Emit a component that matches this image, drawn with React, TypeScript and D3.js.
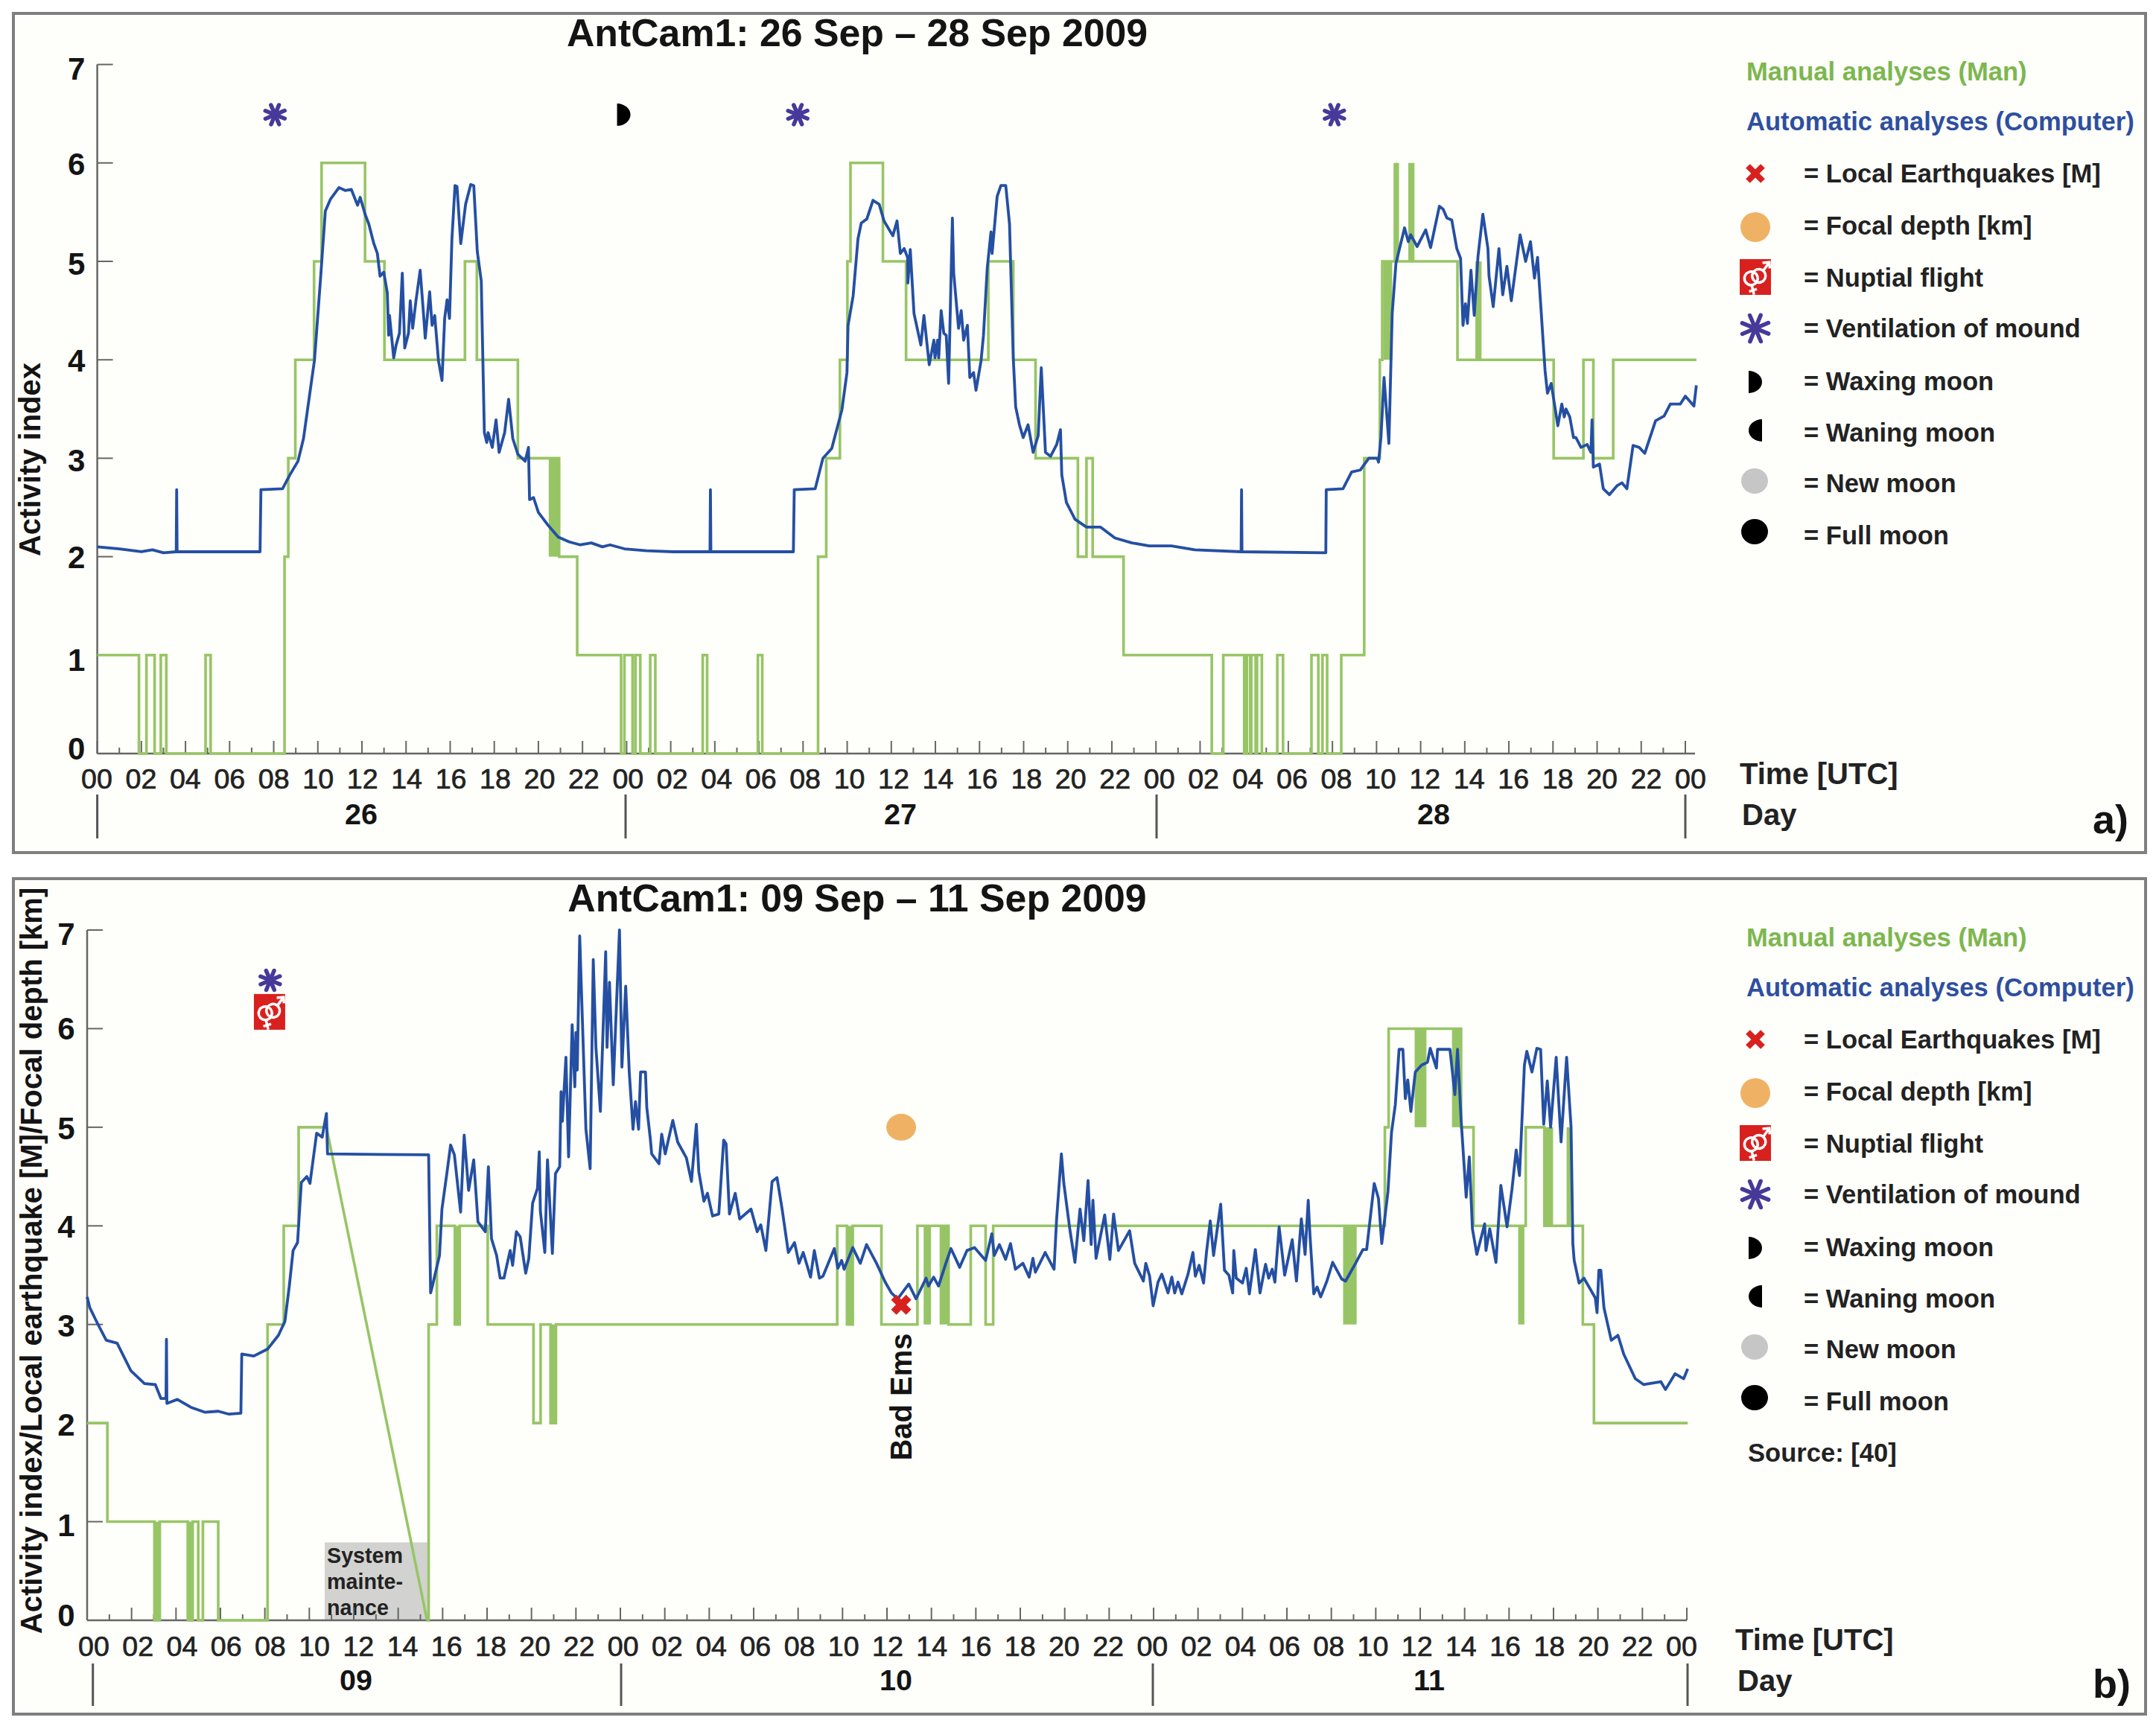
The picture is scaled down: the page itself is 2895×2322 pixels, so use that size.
import React from "react";
import * as d3 from "d3";

type P = [number, number];
type Band = [number, number, number, number];

const hourLabels = ["00","02","04","06","08","10","12","14","16","18","20","22"];
const yTicks = [0,1,2,3,4,5,6,7];

const titleA = "AntCam1: 26 Sep \u2013 28 Sep 2009";
const titleB = "AntCam1: 09 Sep \u2013 11 Sep 2009";
const daysA = ["26","27","28"];
const daysB = ["09","10","11"];

const legendRows = ["= Local Earthquakes [M]","= Focal depth [km]","= Nuptial flight","= Ventilation of mound","= Waxing moon","= Waning moon","= New moon","= Full moon"];

const manualA: P[] = [[0,1],[1.89,0],[2.23,1],[2.6,0],[2.88,1],[3.13,0],[4.91,1],[5.14,0],[8.49,2],[8.66,3],[8.98,4],[9.83,5],[10.17,6],[12.14,5],[13.02,4],[16.67,5],[17.21,4],[19.07,3],[20.94,2],[21.76,1],[23.75,0],[23.9,1],[24.27,0],[24.4,1],[24.62,0],[25.07,1],[25.3,0],[27.45,1],[27.65,0],[29.95,1],[30.15,0],[32.68,2],[33.05,3],[33.67,4],[34.01,5],[34.15,6],[35.62,5],[36.67,4],[40.4,5],[41.53,4],[42.54,3],[44.46,2],[44.85,3],[45.13,2],[46.53,1],[50.53,0],[51.05,1],[52.0,0],[52.12,1],[52.27,0],[52.32,1],[52.52,0],[52.58,1],[52.8,0],[53.5,1],[53.76,0],[55.05,1],[55.36,0],[55.55,1],[55.76,0],[56.4,1],[57.44,3],[58.15,4],[58.26,5],[61.67,4],[66.03,3],[67.38,4],[67.83,3],[68.73,4],[72.5,4]];
const manualBandsA: Band[] = [[20.47,20.94,2,3],[58.32,58.71,4,5],[58.77,59.02,5,6],[59.44,59.72,5,6],[62.48,62.76,4,5]];

const blueA: P[] = [[0,2.1],[1,2.08],[2,2.05],[2.5,2.07],[3,2.04],[3.58,2.05],[3.6,2.68],[3.62,2.05],[5,2.05],[7.38,2.05],[7.42,2.68],[8.4,2.69],[8.73,2.83],[9.1,2.97],[9.35,3.2],[9.6,3.6],[9.85,4.0],[10.115,4.8],[10.34,5.51],[10.57,5.63],[10.96,5.75],[11.24,5.72],[11.52,5.73],[11.8,5.57],[11.92,5.65],[12.14,5.48],[12.31,5.38],[12.54,5.18],[12.7,5.08],[12.82,4.85],[12.99,4.89],[13.15,4.68],[13.21,4.25],[13.25,4.45],[13.44,4.02],[13.55,4.15],[13.7,4.27],[13.83,4.88],[13.94,4.12],[14.11,4.27],[14.19,4.6],[14.3,4.32],[14.45,4.6],[14.64,4.91],[14.79,4.47],[14.87,4.22],[15.07,4.69],[15.18,4.35],[15.3,4.45],[15.47,3.99],[15.63,3.79],[15.75,4.42],[15.86,4.61],[15.97,4.42],[16.08,5.23],[16.22,5.77],[16.31,5.76],[16.48,5.18],[16.7,5.58],[16.93,5.78],[17.07,5.77],[17.23,5.1],[17.41,4.8],[17.55,3.26],[17.66,3.16],[17.72,3.26],[17.91,3.11],[18.08,3.39],[18.22,3.06],[18.47,3.26],[18.65,3.6],[18.84,3.2],[19.07,3.04],[19.4,2.97],[19.55,3.11],[19.6,2.58],[19.78,2.6],[20.0,2.45],[20.4,2.33],[20.9,2.2],[21.4,2.15],[21.9,2.12],[22.4,2.14],[22.9,2.1],[23.25,2.12],[23.9,2.08],[24.9,2.06],[26.1,2.05],[27.78,2.05],[27.8,2.68],[27.82,2.05],[31.56,2.05],[31.6,2.68],[32.55,2.69],[32.9,3.0],[33.3,3.1],[33.76,3.49],[33.99,3.87],[34.04,4.35],[34.27,4.65],[34.49,5.23],[34.64,5.39],[34.89,5.43],[35.17,5.62],[35.45,5.58],[35.67,5.41],[36.07,5.26],[36.26,5.41],[36.41,5.08],[36.58,5.13],[36.74,5.04],[36.75,4.78],[36.86,5.12],[37.03,4.47],[37.34,4.15],[37.48,4.45],[37.72,3.95],[37.93,4.2],[37.98,4.02],[38.1,4.2],[38.15,4.02],[38.26,4.5],[38.38,4.27],[38.49,4.25],[38.6,3.76],[38.77,5.44],[38.83,4.88],[39.05,4.32],[39.17,4.5],[39.28,4.2],[39.45,4.35],[39.56,3.82],[39.73,3.87],[39.84,3.69],[40.07,3.99],[40.18,4.25],[40.35,4.93],[40.52,5.3],[40.57,5.08],[40.8,5.66],[40.97,5.77],[41.19,5.77],[41.36,5.38],[41.53,4.02],[41.64,3.52],[41.81,3.34],[41.98,3.21],[42.2,3.34],[42.43,3.06],[42.66,3.23],[42.8,3.92],[42.99,3.06],[43.22,3.02],[43.5,3.14],[43.67,3.29],[43.73,2.83],[43.94,2.55],[44.33,2.38],[44.85,2.3],[45.49,2.3],[46.14,2.19],[46.91,2.14],[47.69,2.11],[48.7,2.11],[49.76,2.07],[51.86,2.05],[51.88,2.68],[51.9,2.05],[55.7,2.04],[55.72,2.68],[56.48,2.69],[56.87,2.86],[57.26,2.88],[57.65,3.0],[58.03,3.0],[58.09,2.96],[58.2,3.21],[58.34,3.82],[58.56,3.15],[58.71,4.47],[58.88,4.98],[59.27,5.34],[59.44,5.2],[59.55,5.27],[59.84,5.15],[60.23,5.32],[60.45,5.14],[60.85,5.56],[61.02,5.53],[61.19,5.44],[61.41,5.42],[61.64,5.13],[61.81,5.03],[61.92,4.35],[62.03,4.57],[62.12,4.37],[62.28,4.91],[62.43,4.45],[62.6,5.05],[62.82,5.48],[63.05,5.13],[63.1,4.85],[63.29,4.54],[63.55,5.13],[63.72,4.66],[63.91,4.95],[64.11,4.6],[64.51,5.27],[64.76,5.0],[64.98,5.2],[65.16,4.83],[65.3,5.04],[65.47,4.47],[65.64,3.89],[65.75,3.66],[65.92,3.76],[66.22,3.33],[66.4,3.55],[66.51,3.42],[66.59,3.5],[66.76,3.42],[66.93,3.21],[67.04,3.21],[67.27,3.11],[67.55,3.14],[67.72,3.06],[67.77,3.39],[67.83,2.91],[68.11,2.94],[68.28,2.69],[68.56,2.63],[68.9,2.72],[69.13,2.75],[69.35,2.69],[69.63,3.13],[69.91,3.11],[70.16,3.05],[70.65,3.38],[71.04,3.43],[71.32,3.55],[71.77,3.55],[72,3.63],[72.39,3.53],[72.5,3.74]];

const manualB1: P[] = [[0,2],[0.91,1],[3.03,0],[3.27,1],[4.53,0],[4.75,1],[5.0,0],[5.21,1],[5.9,0],[8.12,3],[8.85,4],[9.52,5],[10.77,5]];
const manualDiagonalB: P[] = [[10.77,5],[15.3,0]];
const manualB2: P[] = [[15.3,0],[15.37,3],[15.74,4],[16.55,3],[16.77,4],[18.03,3],[20.09,2],[20.41,3],[20.86,2],[21.1,3],[33.76,4],[34.2,3],[34.46,4],[35.75,3],[37.37,4],[38.77,3],[39.77,4],[40.44,3],[40.78,4],[58.41,5],[58.58,6],[61.84,5],[62.4,4],[64.75,5],[65.59,4],[67.32,3],[67.82,2],[72.04,2]];
const manualBandsB: Band[] = [[3.03,3.27,0,1],[4.53,4.75,0,1],[16.55,16.77,3,4],[20.86,21.1,2,3],[34.2,34.46,3,4],[37.65,37.98,3,4],[38.37,38.77,3,4],[56.53,57.14,3,4],[59.75,60.28,5,6],[61.43,61.84,5,6],[64.41,64.69,3,4],[65.59,65.98,4,5],[66.59,66.79,4,5]];

const blueB: P[] = [[0,3.28],[0.12,3.17],[0.49,3.0],[0.86,2.84],[1.35,2.81],[1.97,2.53],[2.58,2.4],[3.07,2.39],[3.32,2.25],[3.55,2.25],[3.57,2.85],[3.59,2.2],[4.06,2.24],[4.67,2.16],[5.29,2.11],[5.9,2.12],[6.39,2.09],[6.92,2.1],[6.96,2.7],[7.5,2.68],[8.12,2.75],[8.61,2.89],[8.9,3.03],[9.1,3.39],[9.27,3.75],[9.47,3.83],[9.64,4.44],[9.89,4.5],[10.03,4.43],[10.33,4.94],[10.58,4.9],[10.77,5.14],[10.82,4.73],[15.37,4.72],[15.46,3.32],[15.55,3.4],[15.86,3.7],[15.97,4.17],[16.19,4.53],[16.36,4.82],[16.53,4.72],[16.81,4.14],[16.97,4.92],[17.17,4.36],[17.4,4.67],[17.59,4.04],[17.92,3.94],[18.06,4.6],[18.2,3.87],[18.43,3.7],[18.59,3.47],[18.76,3.47],[19.04,3.75],[19.15,3.6],[19.32,3.94],[19.49,3.89],[19.74,3.52],[19.88,3.67],[20.05,4.23],[20.27,4.38],[20.35,4.75],[20.4,4.15],[20.6,3.73],[20.72,4.67],[20.94,3.72],[21.08,4.53],[21.27,4.6],[21.33,5.36],[21.39,5.06],[21.55,5.71],[21.67,4.7],[21.83,6.04],[21.95,5.41],[22,5.96],[22.06,5.58],[22.17,6.94],[22.25,6.37],[22.45,4.98],[22.64,4.58],[22.78,6.7],[22.9,5.81],[23.1,5.16],[23.34,6.78],[23.4,5.81],[23.51,6.47],[23.68,5.43],[23.96,7.0],[24.07,5.61],[24.24,6.43],[24.4,5.56],[24.57,4.98],[24.68,5.26],[24.82,4.98],[24.91,5.56],[25.13,5.56],[25.19,5.2],[25.35,4.88],[25.41,4.73],[25.74,4.63],[25.86,4.93],[26.02,4.73],[26.36,5.07],[26.58,4.85],[26.97,4.69],[27.2,4.45],[27.42,5.03],[27.53,4.55],[27.76,4.25],[27.92,4.33],[28.15,4.1],[28.43,4.12],[28.65,4.87],[28.76,4.83],[28.91,4.12],[29.17,4.33],[29.37,4.07],[29.88,4.17],[30.16,3.94],[30.32,4.01],[30.55,3.75],[30.83,4.45],[31.05,4.49],[31.28,4.17],[31.56,3.73],[31.84,3.83],[32.04,3.62],[32.23,3.73],[32.56,3.48],[32.73,3.75],[32.96,3.47],[33.12,3.49],[33.63,3.77],[33.79,3.57],[33.96,3.65],[34.07,3.56],[34.46,3.78],[34.8,3.62],[35.08,3.81],[35.53,3.62],[35.92,3.43],[36.2,3.32],[36.48,3.26],[36.98,3.41],[37.31,3.26],[37.76,3.47],[37.87,3.39],[38.1,3.48],[38.32,3.39],[38.65,3.62],[38.88,3.77],[39.27,3.58],[39.6,3.75],[39.94,3.78],[40.44,3.65],[40.72,3.92],[40.83,3.7],[41.06,3.81],[41.34,3.66],[41.56,3.82],[41.78,3.56],[42.12,3.62],[42.4,3.48],[42.57,3.67],[42.68,3.53],[43.12,3.73],[43.52,3.56],[43.63,4.05],[43.85,4.73],[43.96,4.43],[44.24,3.95],[44.46,3.63],[44.69,4.17],[44.86,3.85],[45.05,4.46],[45.19,3.81],[45.27,4.26],[45.41,3.67],[45.8,4.11],[46.03,3.66],[46.2,4.12],[46.42,3.75],[46.92,3.95],[47.15,3.62],[47.54,3.44],[47.65,3.62],[47.82,3.49],[47.98,3.19],[48.2,3.43],[48.37,3.51],[48.65,3.32],[48.82,3.48],[48.95,3.32],[49.1,3.43],[49.27,3.31],[49.55,3.51],[49.77,3.73],[49.88,3.49],[50.05,3.6],[50.25,3.42],[50.38,3.73],[50.55,4.05],[50.7,3.7],[51.02,4.22],[51.19,3.55],[51.39,3.5],[51.56,3.32],[51.61,3.75],[51.72,3.47],[52.0,3.42],[52.17,3.57],[52.31,3.31],[52.58,3.76],[52.79,3.32],[53.04,3.61],[53.18,3.47],[53.34,3.56],[53.46,3.43],[53.65,3.99],[53.9,3.5],[54.24,3.86],[54.43,3.44],[54.65,4.07],[54.82,3.71],[54.96,4.26],[55.04,3.9],[55.21,3.31],[55.36,3.38],[55.52,3.28],[55.8,3.44],[56.06,3.63],[56.47,3.46],[56.64,3.44],[57.09,3.62],[57.42,3.76],[57.59,3.76],[57.93,4.43],[58.12,4.28],[58.27,3.82],[58.55,4.35],[58.71,4.95],[58.88,5.23],[59.05,5.79],[59.22,5.79],[59.33,5.29],[59.44,5.48],[59.58,5.16],[59.78,5.56],[60.06,5.63],[60.33,5.66],[60.45,5.8],[60.73,5.6],[60.78,5.79],[61.34,5.79],[61.56,5.33],[61.68,5.79],[61.84,5.08],[62.07,4.29],[62.21,4.7],[62.35,3.97],[62.55,3.71],[62.9,4.02],[62.96,3.75],[63.13,3.97],[63.41,3.63],[63.63,4.41],[63.91,3.99],[64.13,4.37],[64.32,4.77],[64.47,4.51],[64.69,5.63],[64.8,5.77],[65.03,5.56],[65.25,5.8],[65.42,5.79],[65.56,5.03],[65.72,5.47],[65.87,5.0],[66.12,5.71],[66.34,4.85],[66.59,5.71],[66.79,5.0],[66.87,3.82],[66.93,3.65],[67.15,3.42],[67.37,3.47],[67.88,3.27],[67.96,3.12],[68.04,3.55],[68.13,3.55],[68.27,3.17],[68.6,2.84],[68.9,2.89],[69.16,2.7],[69.68,2.45],[70.06,2.39],[70.83,2.42],[71.04,2.34],[71.47,2.5],[71.86,2.45],[72.04,2.55]];

const ventilationA: P[] = [[8.06,6.49],[31.76,6.49],[56.09,6.49]];
const waxingA: P[] = [[23.87,6.49]];
const ventilationB: P[] = [[8.24,6.49]];
const nuptialB: P[] = [[8.21,6.17]];
const focalB: P[] = [[36.64,5.0]];
const quakeB: P[] = [[36.64,3.2]];
const maintenanceB: Band = [10.69,15.42,0,0.79];

const GREEN = "#97c566";
const GREEN_TEXT = "#7cb74f";
const BLUE = "#244fa3";
const BLUE_TEXT = "#2e4f9f";
const PURPLE = "#46399a";
const ORANGE = "#efb265";
const RED = "#d8211f";
const GREY = "#c6c6c6";
const AXIS = "#666";
const INK = "#141414";
const FONT = "'Liberation Sans', Arial, sans-serif";

const Aster = ({ x, y, r, sw }: { x: number; y: number; r: number; sw: number }) => (
  <g transform={`translate(${x},${y})`} stroke={PURPLE} strokeWidth={sw} strokeLinecap="round">
    {[0, 45, 90, 135].map((a) => (
      <line key={a} x1={-r} x2={r} y1={0} y2={0} transform={`rotate(${a + 22})`} />
    ))}
  </g>
);
const Moon = ({ x, y, dir }: { x: number; y: number; dir: 1 | -1 }) => (
  <path transform={`translate(${x},${y}) scale(${dir},1)`} d="M-9,-15 A18,15 0 0 1 -9,15 Z" fill="#000" />
);
const Quake = ({ x, y, s, sw }: { x: number; y: number; s: number; sw: number }) => (
  <g transform={`translate(${x},${y})`} stroke={RED} strokeWidth={sw}>
    <line x1={-s} y1={-s} x2={s} y2={s} />
    <line x1={-s} y1={s} x2={s} y2={-s} />
  </g>
);
const Nuptial = ({ x, y }: { x: number; y: number }) => (
  <g transform={`translate(${x},${y})`}>
    <rect x={-21} y={-24} width={42} height={48} fill={RED} />
    <g transform="rotate(-18)" fill="none" stroke="#fff" strokeWidth={3.5}>
      <circle cx={-6} cy={0} r={9} />
      <circle cx={5} cy={0} r={9} />
      <line x1={-8} y1={9} x2={-9} y2={22} />
      <line x1={-14} y1={16} x2={-3} y2={16} />
      <line x1={13} y1={-5} x2={24} y2={-13} />
      <path d="M15,-15 L24,-13 L22,-5" />
    </g>
  </g>
);

interface PanelProps {
  top: number; bottom: number; x0: number; x72: number; y0: number; y7: number;
  yLabY: number[]; tickBase: number; dayBase: number; sepTop: number; sepBottom: number; sepX: number[];
  title: string; titleBase: number; days: string[]; dayX: number[];
  children?: (x: d3.ScaleLinear<number, number>, y: d3.ScaleLinear<number, number>) => React.ReactNode;
  manual: P[][]; manualLinear?: P[]; bands: Band[]; blue: P[]; axisEnd: number;
  yTitle: string; yTitleX: number; yTitleY: number;
  labX: [number, number];
}

function Panel(p: PanelProps) {
  const x = d3.scaleLinear().domain([0, 72]).range([p.x0, p.x72]);
  const labelX = d3.scaleLinear().domain([0, 72]).range(p.labX);
  const y = d3.scaleLinear().domain([0, 7]).range([p.y0, p.y7]);
  const step = d3.line<P>().x((d) => x(d[0])).y((d) => y(d[1])).curve(d3.curveStepAfter);
  const straight = d3.line<P>().x((d) => x(d[0])).y((d) => y(d[1]));
  const hours = d3.range(0, 73);
  return (
    <g fontFamily={FONT}>
      <rect x={18} y={p.top} width={2863} height={p.bottom - p.top} fill="#fefefa" stroke="#7f7f7f" strokeWidth={4} />
      <text x={1151} y={p.titleBase} textAnchor="middle" fontSize={51.8} fontWeight="bold" fill={INK}>{p.title}</text>

      {p.children && p.children(x, y)}

      {hours.map((h) => (
        <line key={h} x1={x(h)} x2={x(h)} y1={p.y0} y2={p.y0 - (h % 2 === 0 ? 17 : 8)} stroke={AXIS} strokeWidth={2} />
      ))}
      <line x1={p.x0} x2={p.axisEnd} y1={p.y0} y2={p.y0} stroke={AXIS} strokeWidth={2.5} />
      <line x1={p.x0} x2={p.x0} y1={p.y0} y2={p.y7} stroke={AXIS} strokeWidth={2.5} />
      {yTicks.map((v) => (
        <g key={v}>
          <line x1={p.x0} x2={p.x0 + 21} y1={y(v)} y2={y(v)} stroke={AXIS} strokeWidth={2} />
          <text x={p.x0 - 28} y={p.yLabY[v]} dy="0.36em" textAnchor="middle" fontSize={42} fontWeight="bold" fill={INK}>{v}</text>
        </g>
      ))}
      {d3.range(0, 73, 2).map((h) => (
        <text key={h} x={labelX(h)} y={p.tickBase} textAnchor="middle" fontSize={37.6} fill="#222" stroke="#222" strokeWidth={0.7}>
          {hourLabels[(h % 24) / 2]}
        </text>
      ))}
      {p.sepX.map((sx) => (
        <line key={sx} x1={sx} x2={sx} y1={p.sepTop} y2={p.sepBottom} stroke="#555" strokeWidth={3} />
      ))}
      {p.days.map((d, i) => (
        <text key={d} x={p.dayX[i]} y={p.dayBase} textAnchor="middle" fontSize={39.5} fontWeight="bold" fill={INK}>{d}</text>
      ))}
      <text transform={`translate(${p.yTitleX},${p.yTitleY}) rotate(-90)`} textAnchor="middle" fontSize={40} fontWeight="bold" fill={INK}>{p.yTitle}</text>

      {p.bands.map((b, i) => (
        <rect key={i} x={x(b[0])} width={x(b[1]) - x(b[0])} y={y(b[3])} height={y(b[2]) - y(b[3])} fill={GREEN} />
      ))}
      {p.manual.map((m, i) => (
        <path key={i} d={step(m) ?? ""} fill="none" stroke={GREEN} strokeWidth={3.6} />
      ))}
      {p.manualLinear && <path d={straight(p.manualLinear) ?? ""} fill="none" stroke={GREEN} strokeWidth={3.6} />}
      <path d={straight(p.blue) ?? ""} fill="none" stroke={BLUE} strokeWidth={3.8} strokeLinejoin="round" />
    </g>
  );
}

function Legend({ dy, timeX, source }: { dy: number; timeX: number; source?: string }) {
  const rowY = [245, 315, 385, 453, 524, 593, 661, 731];
  const sy = [233, 305, 372, 441, 513, 578, 646, 714];
  const sx = 2357;
  return (
    <g fontFamily={FONT} fontWeight="bold" fontSize={34.6} fill="#222" transform={`translate(0,${dy})`}>
      <text x={2345} y={108} fill={GREEN_TEXT}>Manual analyses (Man)</text>
      <text x={2345} y={175} fill={BLUE_TEXT}>Automatic analyses (Computer)</text>
      {legendRows.map((t, i) => (
        <text key={t} x={2422} y={rowY[i]}>{t}</text>
      ))}
      <Quake x={sx} y={sy[0]} s={10} sw={8} />
      <ellipse cx={sx} cy={sy[1]} rx={20} ry={20} fill={ORANGE} />
      <Nuptial x={sx} y={sy[2]} />
      <Aster x={sx} y={sy[3]} r={19} sw={5.5} />
      <Moon x={sx} y={sy[4]} dir={1} />
      <Moon x={sx} y={sy[5]} dir={-1} />
      <ellipse cx={sx - 1} cy={sy[6]} rx={18} ry={17} fill={GREY} />
      <ellipse cx={sx - 1} cy={sy[7]} rx={18} ry={17} fill="#000" />
      <text x={timeX} y={1053} fontSize={40}>Time [UTC]</text>
      <text x={timeX + 3} y={1108} fontSize={40}>Day</text>
      {source && <text x={2347} y={800}>{source}</text>}
    </g>
  );
}

export default function App() {
  return (
    <svg width={2895} height={2322} viewBox="0 0 2895 2322" style={{ position: "absolute", left: 0, top: 0, display: "block", background: "#fff" }}>
      <Panel top={18} bottom={1145} x0={130.6} x72={2263} y0={1012} y7={86.6}
        yLabY={[1005, 886, 748, 618, 484, 354, 220, 92]}
        tickBase={1059} dayBase={1107} sepTop={1067} sepBottom={1126} sepX={[130.6, 840, 1553, 2263]}
        title={titleA} titleBase={62} days={daysA} dayX={[485, 1209, 1925]}
        manual={[manualA]} bands={manualBandsA} blue={blueA} axisEnd={2276}
        yTitle="Activity index" yTitleX={54} yTitleY={617} labX={[130, 2270]}>
        {(x, y) => (
          <>
            {ventilationA.map((d, i) => <Aster key={i} x={x(d[0])} y={y(d[1])} r={14} sw={5.5} />)}
            {waxingA.map((d, i) => <Moon key={i} x={x(d[0])} y={y(d[1])} dir={1} />)}
          </>
        )}
      </Panel>
      <Panel top={1180} bottom={2302} x0={117} x72={2265} y0={2176} y7={1249}
        yLabY={[2169, 2048, 1913, 1780, 1647, 1515, 1381, 1254]}
        tickBase={2224} dayBase={2270} sepTop={2234} sepBottom={2291} sepX={[124.7, 834, 1548, 2266]}
        title={titleB} titleBase={1224} days={daysB} dayX={[478, 1203, 1919]}
        manual={[manualB1, manualB2]} manualLinear={manualDiagonalB} bands={manualBandsB} blue={blueB} axisEnd={2265}
        yTitle="Activity index/Local earthquake [M]/Focal depth [km]" yTitleX={56} yTitleY={1693} labX={[126, 2258]}>
        {(x, y) => (
          <>
            <rect x={x(maintenanceB[0])} width={x(maintenanceB[1]) - x(maintenanceB[0])} y={y(maintenanceB[3])} height={y(maintenanceB[2]) - y(maintenanceB[3])} fill="#d2d2d0" />
            <g fontSize={28.7} fontWeight="bold" fill="#222">
              <text x={439} y={2099}>System</text>
              <text x={439} y={2134}>mainte-</text>
              <text x={439} y={2169}>nance</text>
            </g>
            {ventilationB.map((d, i) => <Aster key={i} x={x(d[0])} y={y(d[1])} r={14} sw={5.5} />)}
            {nuptialB.map((d, i) => <Nuptial key={i} x={x(d[0])} y={y(d[1])} />)}
            {focalB.map((d, i) => <ellipse key={i} cx={x(d[0])} cy={y(d[1])} rx={20} ry={18} fill={ORANGE} />)}
            {quakeB.map((d, i) => (
              <text key={i} transform={`translate(${x(d[0]) + 14},1876) rotate(-90)`} textAnchor="middle" fontSize={40} fontWeight="bold" fill={INK}>Bad Ems</text>
            ))}
          </>
        )}
      </Panel>
      <Legend dy={0} timeX={2336} />
      <Legend dy={1163} timeX={2330} source="Source: [40]" />
      <QuakeLayer />
      <text x={2810} y={1119} fontFamily={FONT} fontSize={54} fontWeight="bold" fill={INK}>a)</text>
      <text x={2810} y={2280} fontFamily={FONT} fontSize={54} fontWeight="bold" fill={INK}>b)</text>
    </svg>
  );
}

function QuakeLayer() {
  const x = d3.scaleLinear().domain([0, 72]).range([117, 2265]);
  const y = d3.scaleLinear().domain([0, 7]).range([2176, 1249]);
  return <>{quakeB.map((d, i) => <Quake key={i} x={x(d[0])} y={y(d[1])} s={10} sw={10} />)}</>;
}
